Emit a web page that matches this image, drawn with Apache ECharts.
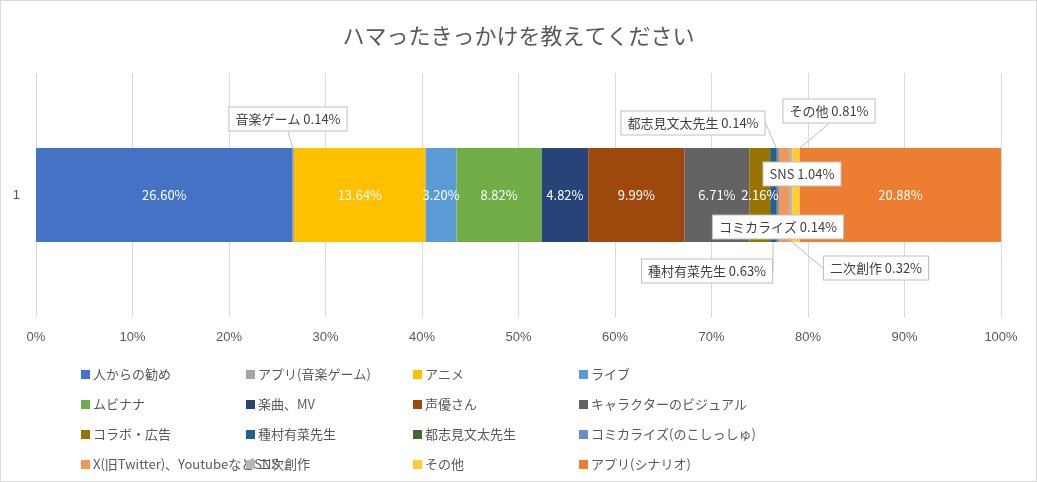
<!DOCTYPE html>
<html>
<head>
<meta charset="utf-8">
<script src="https://cdn.jsdelivr.net/npm/echarts@6/dist/echarts.min.js"></script>
<style>
  html, body { margin: 0; padding: 0; background: #fff; }
  #chart { width: 1035px; height: 480px; border: 1px solid #d9d9d9; }
</style>
</head>
<body>
<div id="chart"></div>
<script>
// data
var categories = ['1'];
var names = ['人からの勧め', 'アプリ(音楽ゲーム)', 'アニメ', 'ライブ', 'ムビナナ', '楽曲、MV', '声優さん',
  'キャラクターのビジュアル', 'コラボ・広告', '種村有菜先生', '都志見文太先生', 'コミカライズ(のこしっしゅ)',
  'X(旧Twitter)、YoutubeなどSNS', '二次創作', 'その他', 'アプリ(シナリオ)'];
var values = [26.60, 0.14, 13.64, 3.20, 8.82, 4.82, 9.99, 6.71, 2.16, 0.63, 0.14, 0.14, 1.04, 0.32, 0.81, 20.88];
var calloutNames = {1: '音楽ゲーム', 9: '種村有菜先生', 10: '都志見文太先生', 11: 'コミカライズ', 12: 'SNS', 13: '二次創作', 14: 'その他'};
var xTicks = [0, 10, 20, 30, 40, 50, 60, 70, 80, 90, 100];

var colors = ['#4472C4', '#A5A5A5', '#FFC000', '#5B9BD5', '#70AD47', '#264478', '#9E480E', '#636363',
  '#997300', '#255E91', '#43682B', '#698ED0', '#F1975A', '#B7B7B7', '#FFCD33', '#ED7D31'];

// callout box positions
var calloutPos = {1: [287, 118], 9: [706, 270], 10: [692, 122], 11: [777, 226], 12: [801, 173], 13: [875, 267], 14: [828, 110]};

var chart = echarts.init(document.getElementById('chart'));

var series = values.map(function (v, i) {
  var s = {
    name: names[i],
    type: 'bar',
    stack: 'all',
    barWidth: 94,
    itemStyle: { color: colors[i] },
    data: [v],
    label: {
      show: true,
      position: 'inside',
      color: '#fff',
      fontSize: 13,
      fontFamily: 'Noto Sans CJK JP',
      formatter: function (p) { return p.value.toFixed(2) + '%'; }
    }
  };
  if (calloutNames[i]) {
    s.label = {
      show: true,
      color: '#404040',
      fontSize: 13,
      fontFamily: 'Noto Sans CJK JP',
      backgroundColor: '#fff',
      borderColor: '#bfbfbf',
      borderWidth: 1,
      padding: [5, 6],
      formatter: function (p) { return calloutNames[i] + ' ' + p.value.toFixed(2) + '%'; }
    };
    s.labelLine = { show: true, lineStyle: { color: '#bfbfbf', width: 1 } };
    s.labelLayout = { x: calloutPos[i][0], y: calloutPos[i][1], align: 'center', verticalAlign: 'middle', moveOverlap: false };
  }
  return s;
});

// legend: 4 columns
var colX = [75, 240, 407, 573];
var legends = colX.map(function (x, c) {
  var d = [];
  for (var r = 0; r < 4; r++) d.push(names[r * 4 + c]);
  return {
    orient: 'vertical',
    left: x,
    top: 360,
    itemGap: 13,
    itemWidth: 9,
    itemHeight: 9,
    itemStyle: { borderWidth: 0 },
    icon: 'rect',
    textStyle: { color: '#595959', fontSize: 13, lineHeight: 17, padding: [0, 0, 0, -2], fontFamily: 'Noto Sans CJK JP' },
    selectedMode: false,
    data: d
  };
});

chart.setOption({
  animation: false,
  title: {
    text: 'ハマったきっかけを教えてください',
    left: 'center',
    top: 19,
    textStyle: { color: '#595959', fontSize: 22, fontWeight: 'normal', fontFamily: 'Noto Sans CJK JP' }
  },
  legend: legends,
  grid: { left: 35, right: 35, top: 72, bottom: 164 },
  xAxis: {
    type: 'value',
    min: 0,
    max: 100,
    interval: 10,
    axisLine: { show: false },
    axisTick: { show: false },
    splitLine: { lineStyle: { color: '#d9d9d9' } },
    axisLabel: {
      color: '#595959', fontSize: 13, margin: 14,
      formatter: function (v) { return xTicks.indexOf(v) >= 0 ? v + '%' : ''; }
    }
  },
  yAxis: {
    type: 'category',
    data: categories,
    axisLine: { show: false },
    axisTick: { show: false },
    axisLabel: { color: '#595959', fontSize: 13, margin: 16 }
  },
  series: series
});
</script>
</body>
</html>
